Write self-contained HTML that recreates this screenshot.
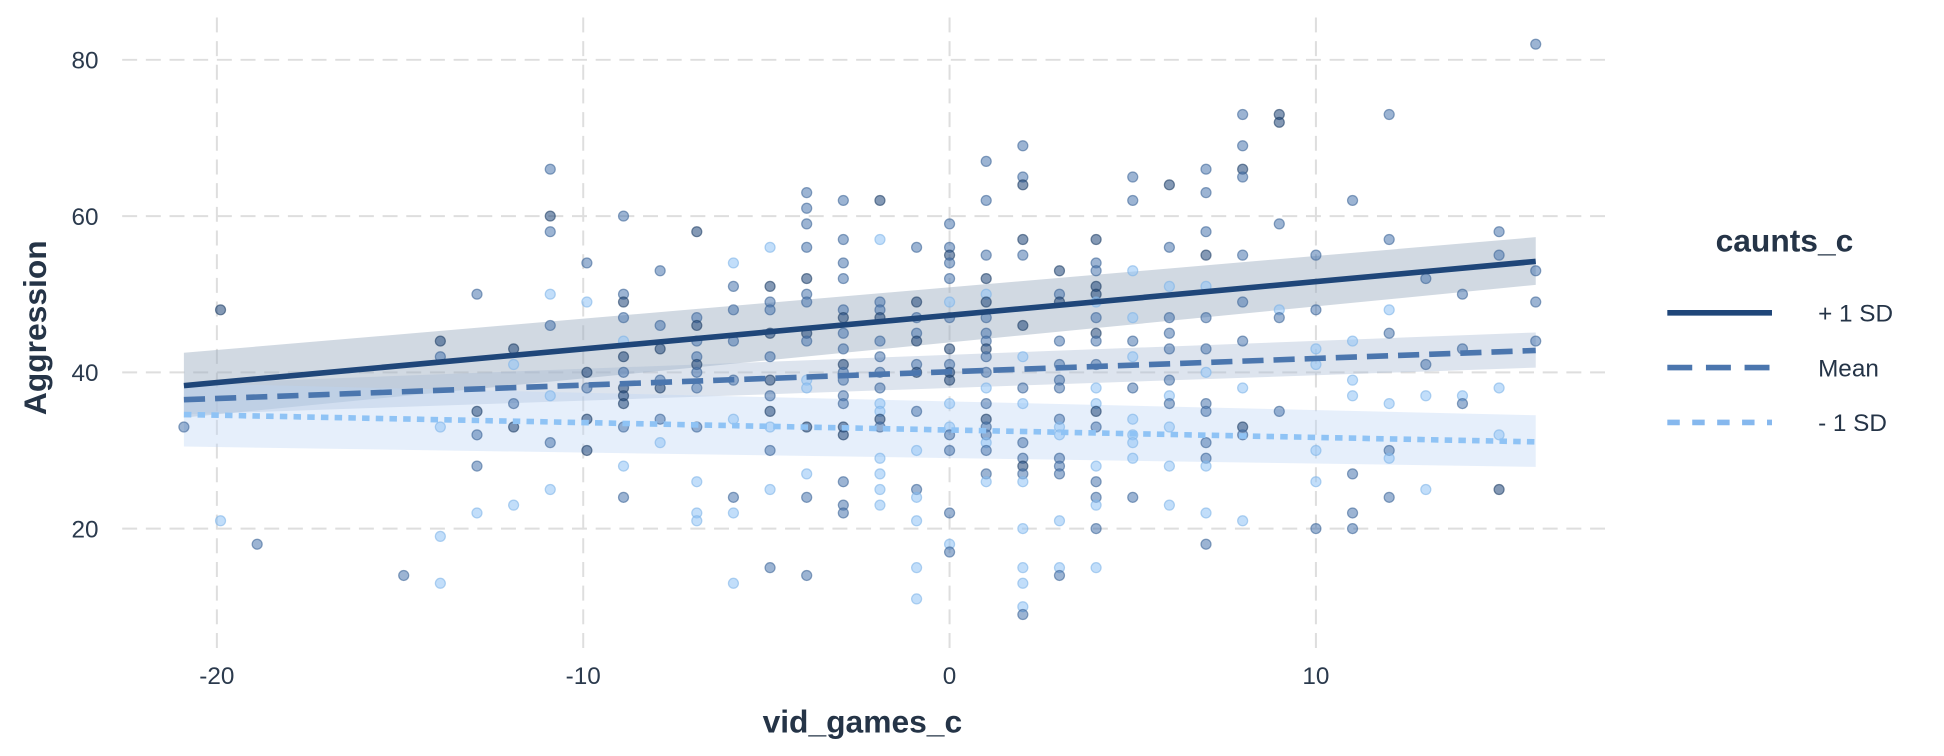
<!DOCTYPE html>
<html><head><meta charset="utf-8"><style>
html,body{margin:0;padding:0;background:#fff;}
svg{display:block;font-family:"Liberation Sans",sans-serif;}
</style></head><body>
<svg id="chart" width="1944" height="756" viewBox="0 0 1560 606.7" xmlns="http://www.w3.org/2000/svg">
<g id="grid"></g>
<g id="ribbons"></g>
<g id="points"></g>
<g id="lines"></g>
<g id="axes"></g>
<text transform="translate(37,263) rotate(-90)" text-anchor="middle" font-size="25.5" font-weight="bold" fill="#253447">Aggression</text>
<text x="692" y="588" text-anchor="middle" font-size="25.5" font-weight="bold" fill="#253447">vid_games_c</text>
<g>
<text x="1432" y="202" text-anchor="middle" font-size="25.5" font-weight="bold" fill="#253447">caunts_c</text>
<line x1="1338" x2="1422" y1="251" y2="251" stroke="#1f4679" stroke-width="4.5"/>
<text x="1459" y="258" font-size="19.5" fill="#253447">+ 1 SD</text>
<line x1="1338" x2="1422" y1="295" y2="295" stroke="#4b76ae" stroke-width="4.5" stroke-dasharray="20,11"/>
<text x="1459" y="302" font-size="19.5" fill="#253447">Mean</text>
<line x1="1338" x2="1422" y1="339" y2="339" stroke="#86b8ee" stroke-width="4.5" stroke-dasharray="10,10"/>
<text x="1459" y="346" font-size="19.5" fill="#253447">- 1 SD</text>
</g>
</svg>
<script>
const xTicks=[-20,-10,0,10];
const yTicks=[20,40,60,80];
const groupNames=["+1SD","Mean","-1SD"];
const lineStarts=[38.3,36.5,34.6];
const lineEnds=[54.2,42.8,31.1];
const ribbonLowStart=[34.2,34.6,30.5];
const ribbonHighStart=[42.5,38.5,38.6];
const ribbonLowEnd=[51.2,40.6,27.9];
const ribbonHighEnd=[57.3,45.1,34.5];
const xRange=[-20.9,16.0];
// points: [x, y, group] group 0=dark,1=mid,2=light
const pts=[[-20.9,33,1],[-19.9,48,0],[-19.9,21,2],[-18.9,18,1],[-14.9,14,1],
[-13.9,44,0],[-13.9,42,1],[-13.9,33,2],[-13.9,19,2],[-13.9,13,2],
[-12.9,50,1],[-12.9,35,0],[-12.9,32,1],[-12.9,28,1],[-12.9,22,2],
[-11.9,43,0],[-11.9,41,2],[-11.9,36,1],[-11.9,33,0],[-11.9,23,2],
[-10.9,66,1],[-10.9,60,0],[-10.9,58,1],[-10.9,50,2],[-10.9,46,1],[-10.9,37,2],[-10.9,31,1],[-10.9,25,2],
[-9.9,54,1],[-9.9,49,2],[-9.9,40,0],[-9.9,38,1],[-9.9,34,0],[-9.9,30,0],
[-8.9,60,1],[-8.9,50,1],[-8.9,49,0],[-8.9,47,1],[-8.9,44,2],[-8.9,42,0],[-8.9,40,1],[-8.9,38,0],[-8.9,37,0],[-8.9,36,0],[-8.9,33,1],[-8.9,28,2],[-8.9,24,1],
[-7.9,53,1],[-7.9,46,1],[-7.9,43,0],[-7.9,39,1],[-7.9,38,0],[-7.9,34,1],[-7.9,31,2],
[-6.9,58,0],[-6.9,47,1],[-6.9,46,0],[-6.9,44,1],[-6.9,42,1],[-6.9,41,0],[-6.9,40,1],[-6.9,38,1],[-6.9,33,1],[-6.9,26,2],[-6.9,22,2],[-6.9,21,2],
[-5.9,54,2],[-5.9,51,1],[-5.9,48,1],[-5.9,44,1],[-5.9,39,1],[-5.9,34,2],[-5.9,24,1],[-5.9,22,2],[-5.9,13,2],
[-4.9,56,2],[-4.9,51,0],[-4.9,49,1],[-4.9,48,1],[-4.9,45,0],[-4.9,42,1],[-4.9,39,0],[-4.9,37,1],[-4.9,35,0],[-4.9,33,2],[-4.9,30,1],[-4.9,25,2],[-4.9,15,1],
[-3.9,63,1],[-3.9,61,1],[-3.9,59,1],[-3.9,56,1],[-3.9,52,0],[-3.9,50,1],[-3.9,49,1],[-3.9,45,0],[-3.9,44,1],[-3.9,39,2],[-3.9,38,2],[-3.9,33,0],[-3.9,27,2],[-3.9,24,1],[-3.9,14,1],
[-2.9,62,1],[-2.9,57,1],[-2.9,54,1],[-2.9,52,1],[-2.9,48,1],[-2.9,47,0],[-2.9,45,1],[-2.9,43,1],[-2.9,41,0],[-2.9,40,1],[-2.9,39,1],[-2.9,37,1],[-2.9,36,1],[-2.9,33,0],[-2.9,32,0],[-2.9,26,1],[-2.9,23,1],[-2.9,22,1],
[-1.9,62,0],[-1.9,57,2],[-1.9,49,1],[-1.9,48,1],[-1.9,47,0],[-1.9,44,1],[-1.9,42,1],[-1.9,40,1],[-1.9,38,1],[-1.9,36,2],[-1.9,35,2],[-1.9,34,0],[-1.9,33,1],[-1.9,29,2],[-1.9,27,2],[-1.9,25,2],[-1.9,23,2],
[-0.9,56,1],[-0.9,49,0],[-0.9,47,1],[-0.9,45,1],[-0.9,44,0],[-0.9,41,1],[-0.9,40,0],[-0.9,35,1],[-0.9,30,2],[-0.9,25,1],[-0.9,24,2],[-0.9,21,2],[-0.9,15,2],[-0.9,11,2],
[0.0,59,1],[0.0,56,1],[0.0,55,0],[0.0,54,1],[0.0,52,1],[0.0,49,2],[0.0,47,1],[0.0,43,0],[0.0,41,1],[0.0,40,0],[0.0,39,0],[0.0,36,2],[0.0,33,2],[0.0,32,1],[0.0,30,1],[0.0,22,1],[0.0,18,2],[0.0,17,1],
[1.0,67,1],[1.0,62,1],[1.0,55,1],[1.0,52,0],[1.0,50,2],[1.0,49,0],[1.0,47,1],[1.0,45,1],[1.0,44,1],[1.0,43,0],[1.0,42,1],[1.0,40,1],[1.0,38,2],[1.0,36,1],[1.0,34,0],[1.0,33,1],[1.0,32,1],[1.0,31,2],[1.0,30,1],[1.0,27,1],[1.0,26,2],
[2.0,69,1],[2.0,65,1],[2.0,64,0],[2.0,57,0],[2.0,55,1],[2.0,46,0],[2.0,42,2],[2.0,38,1],[2.0,36,2],[2.0,31,1],[2.0,29,1],[2.0,28,0],[2.0,27,1],[2.0,26,2],[2.0,20,2],[2.0,15,2],[2.0,13,2],[2.0,10,2],[2.0,9,1],
[3.0,53,0],[3.0,50,1],[3.0,49,0],[3.0,44,1],[3.0,41,1],[3.0,39,1],[3.0,38,1],[3.0,34,1],[3.0,33,2],[3.0,32,2],[3.0,29,1],[3.0,28,1],[3.0,27,1],[3.0,21,2],[3.0,15,2],[3.0,14,1],
[4.0,57,0],[4.0,54,1],[4.0,53,1],[4.0,51,0],[4.0,50,0],[4.0,49,2],[4.0,47,1],[4.0,45,0],[4.0,44,1],[4.0,41,1],[4.0,38,2],[4.0,36,2],[4.0,35,0],[4.0,33,1],[4.0,28,2],[4.0,26,1],[4.0,24,1],[4.0,23,2],[4.0,20,1],[4.0,15,2],
[5.0,65,1],[5.0,62,1],[5.0,53,2],[5.0,47,2],[5.0,44,1],[5.0,42,2],[5.0,38,1],[5.0,34,2],[5.0,32,2],[5.0,31,2],[5.0,29,2],[5.0,24,1],
[6.0,64,0],[6.0,56,1],[6.0,51,2],[6.0,47,1],[6.0,45,1],[6.0,43,1],[6.0,39,1],[6.0,37,2],[6.0,36,1],[6.0,33,2],[6.0,28,2],[6.0,23,2],
[7.0,66,1],[7.0,63,1],[7.0,58,1],[7.0,55,0],[7.0,51,2],[7.0,47,1],[7.0,43,1],[7.0,40,2],[7.0,36,1],[7.0,35,1],[7.0,31,1],[7.0,29,1],[7.0,28,2],[7.0,22,2],[7.0,18,1],
[8.0,73,1],[8.0,69,1],[8.0,66,0],[8.0,65,1],[8.0,55,1],[8.0,49,1],[8.0,44,1],[8.0,38,2],[8.0,33,0],[8.0,32,1],[8.0,21,2],
[9.0,73,0],[9.0,72,0],[9.0,59,1],[9.0,48,2],[9.0,47,1],[9.0,35,1],
[10.0,55,1],[10.0,48,1],[10.0,43,2],[10.0,41,2],[10.0,30,2],[10.0,26,2],[10.0,20,1],
[11.0,62,1],[11.0,44,2],[11.0,39,2],[11.0,37,2],[11.0,27,1],[11.0,22,1],[11.0,20,1],
[12.0,73,1],[12.0,57,1],[12.0,48,2],[12.0,45,1],[12.0,36,2],[12.0,30,1],[12.0,29,2],[12.0,24,1],
[13.0,52,1],[13.0,41,1],[13.0,37,2],[13.0,25,2],
[14.0,50,1],[14.0,43,1],[14.0,37,2],[14.0,36,1],
[15.0,58,1],[15.0,55,1],[15.0,38,2],[15.0,32,2],[15.0,25,0],
[16.0,82,1],[16.0,53,1],[16.0,49,1],[16.0,44,1]];

const NS="http://www.w3.org/2000/svg";
const sx=v=>762+v*29.4;
const sy=v=>48+(80-v)*6.27;
const fills=["#1f4679","#4b76ae","#8fc3f5"];
const strokes=["#1f3f66","#3d6598","#7fb4e8"];
function mk(tag,attrs,parent){const e=document.createElementNS(NS,tag);for(const k in attrs)e.setAttribute(k,attrs[k]);parent.appendChild(e);return e;}
const grid=document.getElementById('grid');
yTicks.forEach(t=>{
 const l=mk('line',{x1:98,x2:1295,y1:sy(t),y2:sy(t),stroke:'#dedede','stroke-width':1.6,'stroke-dasharray':'12,7'},grid);
 
 
});
xTicks.forEach(t=>{
 const l=mk('line',{x1:sx(t),x2:sx(t),y1:14,y2:520,stroke:'#dedede','stroke-width':1.6,'stroke-dasharray':'12,7'},grid);
 
 
});
const axes=document.getElementById('axes');
yTicks.forEach(t=>{
 const e=mk('text',{x:79,y:sy(t)+7,'text-anchor':'end','font-size':19.5,fill:'#2b3a4d'},axes);e.textContent=t;
 
 
});
xTicks.forEach(t=>{
 const e=mk('text',{x:sx(t),y:549,'text-anchor':'middle','font-size':19.5,fill:'#2b3a4d'},axes);e.textContent=t;
 
 
});
const rib=document.getElementById('ribbons');
const ribCol=["#9aaabf","#a9bcd4","#bcd6f5"];
const ribOp=[0.45,0.4,0.38];
for(let g=0;g<3;g++){
 const x0=sx(xRange[0]),x1=sx(xRange[1]);
 const p=mk('polygon',{points:`${x0},${sy(ribbonHighStart[g])} ${x1},${sy(ribbonHighEnd[g])} ${x1},${sy(ribbonLowEnd[g])} ${x0},${sy(ribbonLowStart[g])}`,fill:ribCol[g],'fill-opacity':ribOp[g]},rib);
 
 
}
const pg=document.getElementById('points');
pts.forEach(d=>{
 const c=mk('circle',{cx:sx(d[0]),cy:sy(d[1]),r:4,fill:fills[d[2]],'fill-opacity':0.55,stroke:strokes[d[2]],'stroke-opacity':0.6,'stroke-width':1},pg);
 
 
});
const lg=document.getElementById('lines');
const dash=["none","17,8","6,5"];
for(let g=0;g<3;g++){
 const l=mk('line',{x1:sx(xRange[0]),x2:sx(xRange[1]),y1:sy(lineStarts[g]),y2:sy(lineEnds[g]),stroke:fills[g],'stroke-width':4.5,'stroke-dasharray':dash[g]},lg);
 
 
}
</script>
</body></html>
